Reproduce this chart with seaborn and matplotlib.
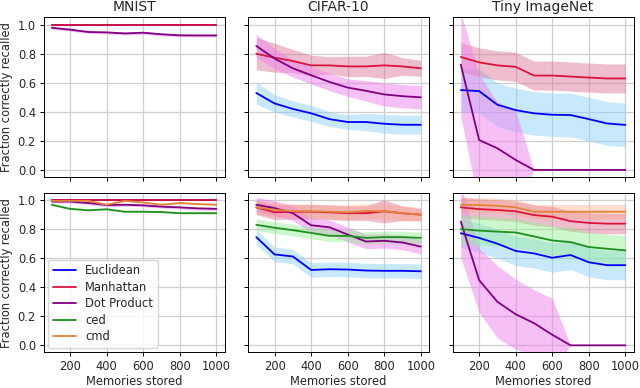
import matplotlib
matplotlib.use("Agg")
import matplotlib.pyplot as plt
import seaborn as sns
import pandas as pd

# memories stored (x axis)
memories = [100, 200, 300, 400, 500, 600, 700, 800, 900, 1000]

datasets = ["MNIST", "CIFAR-10", "Tiny ImageNet"]
methods = ["Euclidean", "Manhattan", "Dot Product", "ced", "cmd"]

line_colors = {"Euclidean": "blue", "Manhattan": "crimson", "Dot Product": "purple",
               "ced": "#1f8f1f", "cmd": "#e3823a"}
band_colors = {"Euclidean": "lightskyblue", "Manhattan": "palevioletred", "Dot Product": "violet",
               "ced": "lightgreen", "cmd": "lightsalmon"}
band_alpha = {"Euclidean": 0.45, "Manhattan": 0.45, "Dot Product": 0.5, "ced": 0.45, "cmd": 0.35}

# ---- top row: Euclidean / Manhattan / Dot Product ----
top_mnist_euc = [1.0] * 10
top_mnist_euc_sd = [0.0] * 10
top_mnist_man = [1.0] * 10
top_mnist_man_sd = [0.0] * 10
top_mnist_dot = [0.979, 0.966, 0.95, 0.947, 0.94, 0.945, 0.934, 0.927, 0.926, 0.926]
top_mnist_dot_sd = [0.01] * 10

top_cifar_euc = [0.53, 0.458, 0.42, 0.39, 0.35, 0.33, 0.33, 0.318, 0.311, 0.311]
top_cifar_euc_sd = [0.075, 0.06, 0.055, 0.055, 0.05, 0.05, 0.06, 0.065, 0.065, 0.065]
top_cifar_man = [0.80, 0.773, 0.75, 0.72, 0.72, 0.713, 0.713, 0.72, 0.713, 0.70]
top_cifar_man_sd = [0.11, 0.1, 0.08, 0.07, 0.06, 0.07, 0.07, 0.09, 0.06, 0.055]
top_cifar_dot = [0.854, 0.767, 0.70, 0.652, 0.606, 0.567, 0.545, 0.52, 0.508, 0.50]
top_cifar_dot_sd = [0.08, 0.07, 0.06, 0.06, 0.06, 0.06, 0.07, 0.08, 0.08, 0.08]

top_tiny_euc = [0.55, 0.543, 0.449, 0.412, 0.39, 0.38, 0.378, 0.35, 0.32, 0.31]
top_tiny_euc_sd = [0.15] * 10
top_tiny_man = [0.778, 0.741, 0.72, 0.71, 0.65, 0.65, 0.643, 0.636, 0.63, 0.63]
top_tiny_man_sd = [0.1] * 10
top_tiny_dot = [0.725, 0.206, 0.149, 0.069, 0, 0, 0, 0, 0, 0]
top_tiny_dot_sd = [0.36, 0.45, 0.32, 0.34, 0, 0, 0, 0, 0, 0]

# ---- bottom row: all five methods ----
bot_mnist_euc = [1.0] * 10
bot_mnist_euc_sd = [0.0] * 10
bot_mnist_man = [1.0] * 10
bot_mnist_man_sd = [0.0] * 10
bot_mnist_dot = [0.99, 0.99, 0.98, 0.966, 0.968, 0.964, 0.955, 0.95, 0.943, 0.94]
bot_mnist_dot_sd = [0.01] * 10
bot_mnist_ced = [0.968, 0.94, 0.93, 0.937, 0.92, 0.92, 0.918, 0.91, 0.91, 0.91]
bot_mnist_ced_sd = [0.005] * 10
bot_mnist_cmd = [0.995, 0.995, 0.995, 0.968, 0.995, 0.984, 0.968, 0.98, 0.973, 0.968]
bot_mnist_cmd_sd = [0.005] * 10

bot_cifar_euc = [0.745, 0.626, 0.612, 0.519, 0.524, 0.522, 0.515, 0.513, 0.513, 0.51]
bot_cifar_euc_sd = [0.05] * 10
bot_cifar_man = [0.95, 0.916, 0.92, 0.92, 0.916, 0.91, 0.91, 0.923, 0.909, 0.90]
bot_cifar_man_sd = [0.05, 0.05, 0.05, 0.05, 0.05, 0.05, 0.05, 0.08, 0.05, 0.04]
bot_cifar_dot = [0.968, 0.945, 0.91, 0.827, 0.813, 0.763, 0.715, 0.72, 0.708, 0.68]
bot_cifar_dot_sd = [0.05] * 10
bot_cifar_ced = [0.83, 0.81, 0.793, 0.774, 0.754, 0.754, 0.74, 0.745, 0.745, 0.74]
bot_cifar_ced_sd = [0.04] * 10
bot_cifar_cmd = [0.95, 0.934, 0.923, 0.923, 0.92, 0.916, 0.925, 0.923, 0.911, 0.90]
bot_cifar_cmd_sd = [0.05] * 10

bot_tiny_euc = [0.772, 0.74, 0.70, 0.65, 0.633, 0.603, 0.622, 0.572, 0.552, 0.552]
bot_tiny_euc_sd = [0.1] * 10
bot_tiny_man = [0.95, 0.938, 0.932, 0.923, 0.897, 0.886, 0.855, 0.843, 0.838, 0.838]
bot_tiny_man_sd = [0.07] * 10
bot_tiny_dot = [0.852, 0.449, 0.30, 0.214, 0.153, 0.073, 0, 0, 0, 0]
bot_tiny_dot_sd = [0.25, 0.22, 0.25, 0.24, 0.23, 0.25, 0, 0, 0, 0]
bot_tiny_ced = [0.80, 0.79, 0.783, 0.777, 0.75, 0.722, 0.711, 0.677, 0.665, 0.654]
bot_tiny_ced_sd = [0.1] * 10
bot_tiny_cmd = [0.968, 0.966, 0.961, 0.95, 0.92, 0.92, 0.92, 0.92, 0.92, 0.92]
bot_tiny_cmd_sd = [0.05] * 10

panels = [
    [  # top row
        [("Euclidean", top_mnist_euc, top_mnist_euc_sd), ("Manhattan", top_mnist_man, top_mnist_man_sd),
         ("Dot Product", top_mnist_dot, top_mnist_dot_sd)],
        [("Euclidean", top_cifar_euc, top_cifar_euc_sd), ("Manhattan", top_cifar_man, top_cifar_man_sd),
         ("Dot Product", top_cifar_dot, top_cifar_dot_sd)],
        [("Euclidean", top_tiny_euc, top_tiny_euc_sd), ("Manhattan", top_tiny_man, top_tiny_man_sd),
         ("Dot Product", top_tiny_dot, top_tiny_dot_sd)],
    ],
    [  # bottom row
        [("Euclidean", bot_mnist_euc, bot_mnist_euc_sd), ("Manhattan", bot_mnist_man, bot_mnist_man_sd),
         ("Dot Product", bot_mnist_dot, bot_mnist_dot_sd), ("ced", bot_mnist_ced, bot_mnist_ced_sd),
         ("cmd", bot_mnist_cmd, bot_mnist_cmd_sd)],
        [("Euclidean", bot_cifar_euc, bot_cifar_euc_sd), ("Manhattan", bot_cifar_man, bot_cifar_man_sd),
         ("Dot Product", bot_cifar_dot, bot_cifar_dot_sd), ("ced", bot_cifar_ced, bot_cifar_ced_sd),
         ("cmd", bot_cifar_cmd, bot_cifar_cmd_sd)],
        [("Euclidean", bot_tiny_euc, bot_tiny_euc_sd), ("Manhattan", bot_tiny_man, bot_tiny_man_sd),
         ("Dot Product", bot_tiny_dot, bot_tiny_dot_sd), ("ced", bot_tiny_ced, bot_tiny_ced_sd),
         ("cmd", bot_tiny_cmd, bot_tiny_cmd_sd)],
    ],
]

sns.set_style("ticks", {"axes.grid": True, "grid.color": "#cfcfcf", "axes.edgecolor": "black"})
plt.rcParams["font.family"] = ["DejaVu Sans"]

fs = 8.3  # the original looks like a 10pt figure scaled down

fig, axes = plt.subplots(2, 3, figsize=(6.4, 3.88), dpi=100, sharex=True, sharey=True)
fig.subplots_adjust(left=0.068, right=0.99, top=0.955, bottom=0.092, wspace=0.13, hspace=0.1)

for r in range(2):
    for c in range(3):
        ax = axes[r, c]
        for name, mean, sd in panels[r][c]:
            df = pd.DataFrame({"x": memories, "y": mean})
            lo = [m - s for m, s in zip(mean, sd)]
            hi = [m + s for m, s in zip(mean, sd)]
            ax.fill_between(memories, lo, hi, color=band_colors[name], alpha=band_alpha[name], lw=0)
            sns.lineplot(data=df, x="x", y="y", ax=ax, color=line_colors[name], lw=1.3,
                         label=name if (r == 1 and c == 0) else None, legend=False)
        ax.set_ylim(-0.048, 1.05)
        ax.set_xlim(55, 1045)
        ax.set_xticks([200, 400, 600, 800, 1000])
        ax.set_yticks([0.0, 0.2, 0.4, 0.6, 0.8, 1.0])
        ax.grid(True, color="#cfcfcf", lw=0.9)
        for sp in ax.spines.values():
            sp.set_color("black")
            sp.set_linewidth(0.7)
        ax.tick_params(direction="out", length=3, width=0.7, labelsize=fs, color="black", pad=2.5)
        ax.set_xlabel("Memories stored" if r == 1 else "", fontsize=fs, labelpad=1.5)
        ax.set_ylabel("Fraction correctly recalled" if c == 0 else "", fontsize=fs, labelpad=3)
        if r == 0:
            ax.set_title(datasets[c], fontsize=10, pad=4.5)

axes[1, 0].legend(loc="lower left", fontsize=fs, frameon=True, borderaxespad=0.4, labelspacing=0.3)

fig.savefig("out.png", dpi=100)
